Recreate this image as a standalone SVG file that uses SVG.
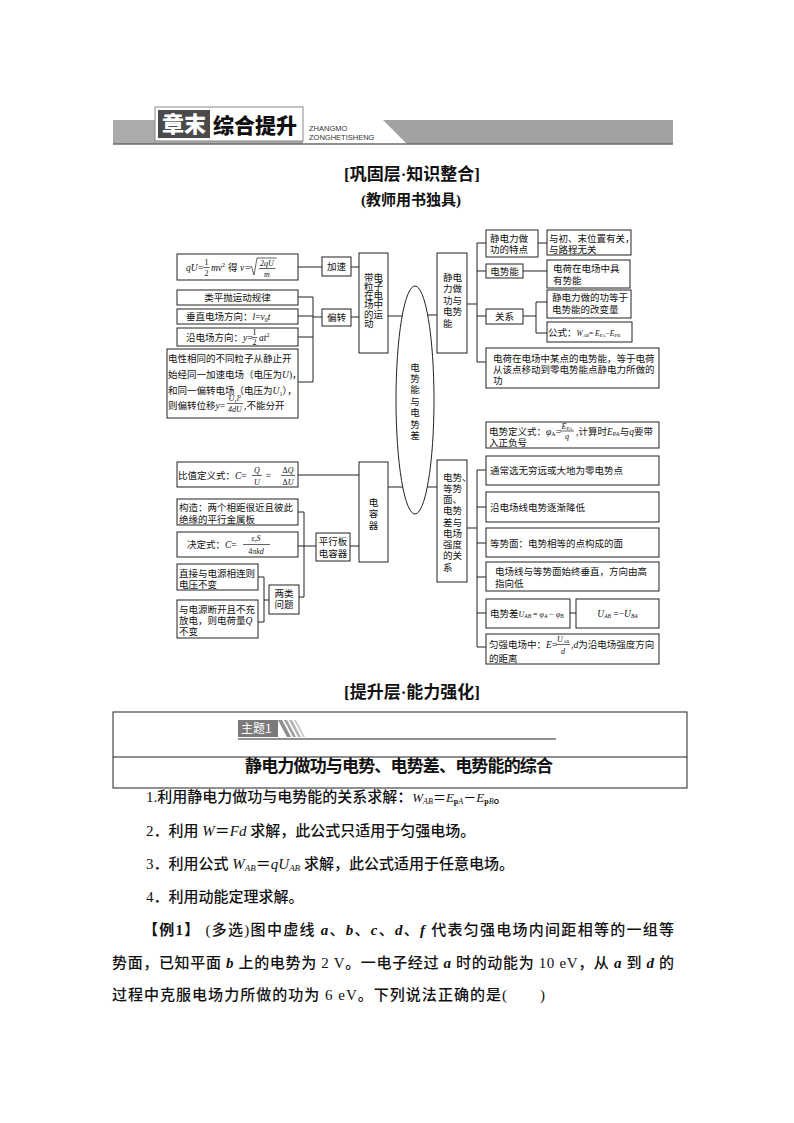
<svg xmlns="http://www.w3.org/2000/svg" width="794" height="1123" viewBox="0 0 794 1123">
<style>
.bx{fill:#fff;stroke:#222;stroke-width:1}
.ln{stroke:#222;stroke-width:1;fill:none}
.fl{stroke:#222;stroke-width:0.7;fill:none}
.t{font-family:"Liberation Serif","Noto Sans CJK SC",serif;font-size:9.5px;fill:#111}
.c{text-anchor:middle}
.i{font-style:italic}
.s{font-size:6px}
.fr{font-size:8px}
.body{font-family:"Liberation Serif","Noto Sans CJK SC",serif;font-size:15px;font-weight:500;fill:#111}
.m{font-family:"Liberation Serif",serif;font-style:italic}
.h{font-family:"Liberation Serif","Noto Sans CJK SC",serif;font-weight:bold;fill:#111}
</style>

<!-- header -->
<g id="header">
  <rect x="113" y="120" width="190" height="24" fill="#ababab"/>
  <polygon points="383,120 673,120 673,144 407,144" fill="#a2a2a2"/>
  <line x1="113" y1="144" x2="673" y2="144" stroke="#6a6a6a" stroke-width="1.5"/>
  <rect x="155" y="107" width="148" height="34" fill="#fff" stroke="#8a8a8a"/>
  <rect x="158" y="110" width="52" height="28" fill="#4a4a4a"/>
  <text x="184" y="132" text-anchor="middle" font-family="'Noto Sans CJK SC',sans-serif" font-size="22" font-weight="900" fill="#fff">章末</text>
  <text x="213" y="133" font-family="'Noto Sans CJK SC',sans-serif" font-size="21" font-weight="900" fill="#111">综合提升</text>
  <text x="309" y="131" font-family="'Liberation Sans',sans-serif" font-size="7.5" fill="#333">ZHANGMO</text>
  <text x="309" y="140" font-family="'Liberation Sans',sans-serif" font-size="7.5" fill="#333">ZONGHETISHENG</text>
  <text class="h" x="412" y="180" font-size="17" text-anchor="middle">[巩固层·知识整合]</text>
  <text class="h" x="411" y="205" font-size="15" text-anchor="middle">(教师用书独具)</text>
</g>

<!-- connectors -->
<g id="connectors" class="ln">
  <line x1="298" y1="267" x2="322" y2="267"/>
  <line x1="351" y1="267" x2="359" y2="267"/>
  <line x1="313" y1="297" x2="313" y2="382"/>
  <line x1="298" y1="297" x2="313" y2="297"/>
  <line x1="298" y1="316" x2="313" y2="316"/>
  <line x1="298" y1="337" x2="313" y2="337"/>
  <line x1="298" y1="382" x2="313" y2="382"/>
  <line x1="313" y1="317" x2="322" y2="317"/>
  <line x1="351" y1="317" x2="359" y2="317"/>
  <line x1="388" y1="316" x2="415" y2="316"/>
  <line x1="415" y1="315" x2="437" y2="315"/>
  <line x1="467" y1="304" x2="477" y2="304"/>
  <line x1="477" y1="243" x2="477" y2="362"/>
  <line x1="477" y1="243" x2="486" y2="243"/>
  <line x1="538" y1="243" x2="547" y2="243"/>
  <line x1="477" y1="271" x2="486" y2="271"/>
  <line x1="523" y1="271" x2="547" y2="271"/>
  <line x1="477" y1="316" x2="486" y2="316"/>
  <line x1="523" y1="316" x2="536" y2="316"/>
  <line x1="536" y1="302" x2="536" y2="333"/>
  <line x1="536" y1="302" x2="547" y2="302"/>
  <line x1="536" y1="333" x2="547" y2="333"/>
  <line x1="477" y1="362" x2="486" y2="362"/>
  <line x1="415" y1="487" x2="437" y2="487"/>
  <line x1="467" y1="528" x2="477" y2="528"/>
  <line x1="477" y1="470" x2="477" y2="647"/>
  <line x1="477" y1="470" x2="486" y2="470"/>
  <line x1="477" y1="507" x2="486" y2="507"/>
  <line x1="477" y1="543" x2="486" y2="543"/>
  <line x1="477" y1="577" x2="486" y2="577"/>
  <line x1="477" y1="613" x2="486" y2="613"/>
  <line x1="477" y1="647" x2="486" y2="647"/>
  <line x1="570" y1="613" x2="576" y2="613"/>
  <line x1="298" y1="475" x2="359" y2="475"/>
  <line x1="388" y1="487" x2="415" y2="487"/>
  <line x1="298" y1="512" x2="304" y2="512"/>
  <line x1="304" y1="512" x2="304" y2="597"/>
  <line x1="298" y1="546" x2="316" y2="546"/>
  <line x1="299" y1="597" x2="304" y2="597"/>
  <line x1="350" y1="546" x2="359" y2="546"/>
  <line x1="258" y1="577" x2="264" y2="577"/>
  <line x1="264" y1="577" x2="264" y2="622"/>
  <line x1="258" y1="622" x2="264" y2="622"/>
  <line x1="264" y1="600" x2="269" y2="600"/>
</g>

<!-- center ellipse -->
<g id="n-center">
  <ellipse class="bx" cx="415" cy="400" rx="19" ry="114"/>
  <text class="t c" x="415" y="370.5" font-size="10"><tspan x="415">电</tspan><tspan x="415" dy="11.4">势</tspan><tspan x="415" dy="11.4">能</tspan><tspan x="415" dy="11.4">与</tspan><tspan x="415" dy="11.4">电</tspan><tspan x="415" dy="11.4">势</tspan><tspan x="415" dy="11.4">差</tspan></text>
</g>

<!-- left top -->
<g id="n-accel-formula">
  <rect class="bx" x="177" y="254" width="121" height="26"/>
  <text class="t i" x="186" y="271">qU=</text>
  <text class="t fr c" x="206.5" y="265">1</text>
  <line class="fl" x1="203.5" y1="267.5" x2="209.5" y2="267.5"/>
  <text class="t fr c" x="206.5" y="276">2</text>
  <text class="t i" x="211" y="271">mv<tspan class="s" font-style="normal" dy="-4">2</tspan></text>
  <text class="t" x="228" y="271">得</text>
  <text class="t i" x="240" y="271">v=</text>
  <path class="fl" d="M249.5,268 l2,-1.5 l2.5,8.5 l3,-17 h19.5"/>
  <text class="t fr i c" x="267" y="266">2qU</text>
  <line class="fl" x1="259" y1="268.5" x2="275.5" y2="268.5"/>
  <text class="t fr i c" x="267" y="277">m</text>
</g>
<g id="n-accel">
  <rect class="bx" x="322" y="257" width="29" height="19"/>
  <text class="t c" x="336.5" y="270">加速</text>
</g>
<g id="n-motion">
  <rect class="bx" x="359" y="253" width="29" height="100"/>
  <text class="t" x="364" y="280.5" font-size="9"><tspan x="364">带电</tspan><tspan x="364" dy="9.3">粒子</tspan><tspan x="364" dy="9.3">在电</tspan><tspan x="364" dy="9.3">场中</tspan><tspan x="364" dy="9.3">的运</tspan><tspan x="364" dy="9.3">动</tspan></text>
</g>
<g id="n-projectile">
  <rect class="bx" x="177" y="290" width="121" height="15"/>
  <text class="t c" x="237.5" y="301">类平抛运动规律</text>
</g>
<g id="n-perp">
  <rect class="bx" x="177" y="309" width="121" height="15"/>
  <text class="t" x="186" y="320">垂直电场方向：<tspan class="i">l</tspan>=<tspan class="i">v</tspan><tspan class="s" dy="2">0</tspan><tspan class="i" dy="-2">t</tspan></text>
</g>
<g id="n-along">
  <rect class="bx" x="177" y="328" width="121" height="18"/>
  <text class="t" x="186" y="340.5">沿电场方向：<tspan class="i">y</tspan>=</text>
  <text class="t fr c" x="254.5" y="335">1</text>
  <line class="fl" x1="251.5" y1="337.5" x2="257.5" y2="337.5"/>
  <text class="t fr c" x="254.5" y="345">2</text>
  <text class="t i" x="259" y="340.5">at<tspan class="s" font-style="normal" dy="-4">2</tspan></text>
</g>
<g id="n-deflect-note">
  <rect class="bx" x="167" y="349" width="131" height="69"/>
  <text class="t" x="168" y="361.5" font-size="9.6">电性相同的不同粒子从静止开</text>
  <text class="t" x="168" y="377.5" font-size="9.6">始经同一加速电场（电压为<tspan class="i">U</tspan>)，</text>
  <text class="t" x="168" y="393.5" font-size="9.6">和同一偏转电场（电压为<tspan class="i">U</tspan><tspan class="s" dy="2">1</tspan><tspan dy="-2">），</tspan></text>
  <text class="t" x="168" y="408.5" font-size="9.6">则偏转位移<tspan class="i">y</tspan>=</text>
  <text class="t fr c" x="235" y="401"><tspan class="i">U</tspan><tspan font-size="5" dy="1.5">1</tspan><tspan class="i" dy="-1.5">l</tspan><tspan font-size="5" dy="-3">2</tspan></text>
  <line class="fl" x1="227" y1="403.5" x2="243" y2="403.5"/>
  <text class="t fr i c" x="235" y="412">4dU</text>
  <text class="t" x="244" y="408.5" font-size="9.6">,不能分开</text>
</g>
<g id="n-deflect">
  <rect class="bx" x="322" y="309" width="29" height="17"/>
  <text class="t c" x="336.5" y="321">偏转</text>
</g>

<!-- right top -->
<g id="n-work">
  <rect class="bx" x="437" y="253" width="30" height="100"/>
  <text class="t" x="443" y="280.5"><tspan x="443">静电</tspan><tspan x="443" dy="11.5">力做</tspan><tspan x="443" dy="11.5">功与</tspan><tspan x="443" dy="11.5">电势</tspan><tspan x="443" dy="11.5">能</tspan></text>
</g>
<g id="n-work-feature">
  <rect class="bx" x="486" y="230" width="52" height="27"/>
  <text class="t" x="490" y="241.5">静电力做</text>
  <text class="t" x="490" y="253">功的特点</text>
</g>
<g id="n-path">
  <rect class="bx" x="547" y="230" width="84" height="25"/>
  <text class="t" x="549" y="241.5" font-size="9">与初、末位置有关，</text>
  <text class="t" x="549" y="252.5" font-size="9">与路程无关</text>
</g>
<g id="n-pe">
  <rect class="bx" x="486" y="264" width="37" height="14"/>
  <text class="t c" x="504.5" y="274.5">电势能</text>
</g>
<g id="n-pe-def">
  <rect class="bx" x="547" y="260" width="83" height="28"/>
  <text class="t" x="553" y="271.5">电荷在电场中具</text>
  <text class="t" x="553" y="283.5">有势能</text>
</g>
<g id="n-rel">
  <rect class="bx" x="486" y="309" width="37" height="15"/>
  <text class="t c" x="504.5" y="320">关系</text>
</g>
<g id="n-rel-1">
  <rect class="bx" x="547" y="290" width="84" height="28"/>
  <text class="t" x="552" y="300.5">静电力做的功等于</text>
  <text class="t" x="552" y="312.5">电势能的改变量</text>
</g>
<g id="n-rel-2">
  <rect class="bx" x="547" y="322" width="85" height="20"/>
  <text class="t" x="548" y="335.5">公式：<tspan class="i" font-size="7.5">W</tspan><tspan class="i" font-size="5" dy="1.5">AB</tspan><tspan font-size="7.5" dy="-1.5">= </tspan><tspan class="i" font-size="7.5">E</tspan><tspan font-size="5" dy="1.5">PA</tspan><tspan font-size="7.5" dy="-1.5">−</tspan><tspan class="i" font-size="7.5">E</tspan><tspan font-size="5" dy="1.5">PB</tspan></text>
</g>
<g id="n-pe-point">
  <rect class="bx" x="486" y="348" width="173" height="40"/>
  <text class="t" x="493" y="361.5" font-size="9.6">电荷在电场中某点的电势能，等于电荷</text>
  <text class="t" x="493" y="372.5" font-size="9.6">从该点移动到零电势能点静电力所做的</text>
  <text class="t" x="493" y="383.5" font-size="9.6">功</text>
</g>

<!-- right bottom -->
<g id="n-potential-def">
  <rect class="bx" x="486" y="422" width="173" height="26"/>
  <text class="t" x="489" y="434.5">电势定义式：<tspan class="i">φ</tspan><tspan class="s" dy="1.5">A</tspan><tspan dy="-1.5">=</tspan></text>
  <text class="t fr c" x="567" y="429"><tspan class="i">E</tspan><tspan font-size="5" dy="1">PA</tspan></text>
  <line class="fl" x1="560" y1="431" x2="574" y2="431"/>
  <text class="t fr i c" x="567" y="438.5">q</text>
  <text class="t" x="576" y="434.5">,计算时<tspan class="i">E</tspan><tspan class="s" dy="1.5">PA</tspan><tspan dy="-1.5">与</tspan><tspan class="i">q</tspan>要带</text>
  <text class="t" x="489" y="445.5">入正负号</text>
</g>
<g id="n-potential">
  <rect class="bx" x="437" y="460" width="30" height="122"/>
  <text class="t" x="443" y="480.5"><tspan x="443">电势、</tspan><tspan x="443" dy="11.25">等势</tspan><tspan x="443" dy="11.25">面、</tspan><tspan x="443" dy="11.25">电势</tspan><tspan x="443" dy="11.25">差与</tspan><tspan x="443" dy="11.25">电场</tspan><tspan x="443" dy="11.25">强度</tspan><tspan x="443" dy="11.25">的关</tspan><tspan x="443" dy="11.25">系</tspan></text>
</g>
<g id="n-zero">
  <rect class="bx" x="486" y="456" width="173" height="29"/>
  <text class="t" x="490" y="473.5">通常选无穷远或大地为零电势点</text>
</g>
<g id="n-decrease">
  <rect class="bx" x="486" y="492" width="173" height="30"/>
  <text class="t" x="490" y="510.5">沿电场线电势逐渐降低</text>
</g>
<g id="n-equi">
  <rect class="bx" x="486" y="528" width="173" height="29"/>
  <text class="t" x="490" y="546.5">等势面：电势相等的点构成的面</text>
</g>
<g id="n-perpendicular">
  <rect class="bx" x="486" y="562" width="173" height="29"/>
  <text class="t" x="495" y="574.5">电场线与等势面始终垂直，方向由高</text>
  <text class="t" x="495" y="586.5">指向低</text>
</g>
<g id="n-diff">
  <rect class="bx" x="486" y="599" width="84" height="29"/>
  <text class="t" x="490" y="616.5">电势差<tspan class="i" font-size="8">U</tspan><tspan class="i" font-size="5.5" dy="1.5">AB</tspan><tspan font-size="8" dy="-1.5"> = </tspan><tspan class="i" font-size="8">φ</tspan><tspan class="i" font-size="5.5" dy="1.5">A</tspan><tspan font-size="8" dy="-1.5"> − </tspan><tspan class="i" font-size="8">φ</tspan><tspan class="i" font-size="5.5" dy="1.5">B</tspan></text>
</g>
<g id="n-diff-neg">
  <rect class="bx" x="576" y="599" width="83" height="29"/>
  <text class="t c" x="617.5" y="616.5" font-size="8.5"><tspan class="i">U</tspan><tspan class="i" font-size="5.5" dy="1.5">AB</tspan><tspan dy="-1.5"> =−</tspan><tspan class="i">U</tspan><tspan class="i" font-size="5.5" dy="1.5">BA</tspan></text>
</g>
<g id="n-uniform">
  <rect class="bx" x="486" y="634" width="173" height="30"/>
  <text class="t" x="489" y="648">匀强电场中：<tspan class="i">E</tspan>=</text>
  <text class="t fr c" x="563" y="641.5"><tspan class="i">U</tspan><tspan class="i" font-size="5" dy="1">AB</tspan></text>
  <line class="fl" x1="556" y1="644.5" x2="570" y2="644.5"/>
  <text class="t fr i c" x="563" y="654">d</text>
  <text class="t" x="571" y="648">,<tspan class="i">d</tspan>为沿电场强度方向</text>
  <text class="t" x="489" y="661.5">的距离</text>
</g>

<!-- left bottom -->
<g id="n-cap-def">
  <rect class="bx" x="177" y="462" width="121" height="25"/>
  <text class="t" x="178" y="478.5">比值定义式：<tspan class="i">C</tspan>=</text>
  <text class="t fr i c" x="257" y="472.5">Q</text>
  <line class="fl" x1="252" y1="475.5" x2="262" y2="475.5"/>
  <text class="t fr i c" x="257" y="485">U</text>
  <text class="t c" x="268.5" y="478.5">=</text>
  <text class="t fr c" x="288" y="472.5">Δ<tspan class="i">Q</tspan></text>
  <line class="fl" x1="281" y1="475.5" x2="295" y2="475.5"/>
  <text class="t fr c" x="288" y="485">Δ<tspan class="i">U</tspan></text>
</g>
<g id="n-capacitor">
  <rect class="bx" x="359" y="462" width="29" height="100"/>
  <text class="t c" x="373.5" y="505.5" font-size="10"><tspan x="373.5">电</tspan><tspan x="373.5" dy="11.5">容</tspan><tspan x="373.5" dy="11.5">器</tspan></text>
</g>
<g id="n-structure">
  <rect class="bx" x="177" y="499" width="121" height="26"/>
  <text class="t" x="179" y="510.5">构造：两个相距很近且彼此</text>
  <text class="t" x="179" y="522.5">绝缘的平行金属板</text>
</g>
<g id="n-determine">
  <rect class="bx" x="177" y="532" width="121" height="25"/>
  <text class="t" x="187" y="548">决定式：<tspan class="i">C</tspan>=</text>
  <text class="t fr c" x="256" y="541"><tspan class="i">ε</tspan><tspan font-size="5" dy="1">r</tspan><tspan class="i" dy="-1">S</tspan></text>
  <line class="fl" x1="243" y1="544.5" x2="270" y2="544.5"/>
  <text class="t fr c" x="256" y="554">4π<tspan class="i">kd</tspan></text>
</g>
<g id="n-parallel">
  <rect class="bx" x="316" y="533" width="34" height="28"/>
  <text class="t c" x="333" y="544.5">平行板</text>
  <text class="t c" x="333" y="556.5">电容器</text>
</g>
<g id="n-connected">
  <rect class="bx" x="177" y="564" width="81" height="26"/>
  <text class="t" x="179" y="576.5">直接与电源相连则</text>
  <text class="t" x="179" y="587.5">电压不变</text>
</g>
<g id="n-disconnected">
  <rect class="bx" x="177" y="600" width="81" height="38"/>
  <text class="t" x="179" y="612.5">与电源断开且不充</text>
  <text class="t" x="179" y="623.5">放电，则电荷量<tspan class="i">Q</tspan></text>
  <text class="t" x="179" y="634.5">不变</text>
</g>
<g id="n-two">
  <rect class="bx" x="269" y="585" width="30" height="29"/>
  <text class="t c" x="284" y="596.5">两类</text>
  <text class="t c" x="284" y="607.5">问题</text>
</g>

<!-- section 2 -->
<g id="section2">
  <text class="h" x="412" y="698" font-size="17" text-anchor="middle">[提升层·能力强化]</text>
  <rect x="113" y="712" width="574" height="76" fill="none" stroke="#222" stroke-width="1"/>
  <line x1="113" y1="757" x2="687" y2="757" stroke="#222" stroke-width="1"/>
  <rect x="238" y="720" width="40" height="17" fill="#7a7a7a"/>
  <text x="241" y="733" font-family="'Noto Sans CJK SC',sans-serif" font-size="12" fill="#fff">主题1</text>
  <polygon points="278,720 282,720 291,737 287,737" fill="#8c8c8c"/>
  <polygon points="284,720 287,720 296,737 293,737" fill="#a0a0a0"/>
  <polygon points="289,720 292,720 301,737 298,737" fill="#b4b4b4"/>
  <polygon points="294,720 296,720 305,737 303,737" fill="#c8c8c8"/>
  <line x1="238" y1="739" x2="556" y2="739" stroke="#222" stroke-width="1"/>
  <text class="h" x="245" y="772" font-size="17" textLength="308" lengthAdjust="spacing">静电力做功与电势、电势差、电势能的综合</text>
</g>

<g id="body">
  <text class="body" x="146" y="802">1.利用静电力做功与电势能的关系求解：<tspan class="m" font-size="13">W</tspan><tspan class="m" font-size="8" dy="2">AB</tspan><tspan font-size="13" dy="-2">＝</tspan><tspan class="m" font-size="13">E</tspan><tspan font-size="8" font-weight="bold" dy="2">p</tspan><tspan class="m" font-size="8">A</tspan><tspan font-size="13" dy="-2">－</tspan><tspan class="m" font-size="13">E</tspan><tspan font-size="8" font-weight="bold" dy="2">p</tspan><tspan class="m" font-size="8">B</tspan><tspan dy="-2">。</tspan></text>
  <text class="body" x="146" y="836">2．利用 <tspan class="m">W</tspan>＝<tspan class="m">Fd</tspan> 求解，此公式只适用于匀强电场。</text>
  <text class="body" x="146" y="869">3．利用公式 <tspan class="m">W</tspan><tspan class="m" font-size="9" dy="2">AB</tspan><tspan dy="-2">＝</tspan><tspan class="m">qU</tspan><tspan class="m" font-size="9" dy="2">AB</tspan><tspan dy="-2"> 求解，此公式适用于任意电场。</tspan></text>
  <text class="body" x="146" y="902">4．利用动能定理求解。</text>
  <text class="body" x="143" y="935" textLength="531" lengthAdjust="spacing"><tspan font-weight="bold">【例1】</tspan>  (多选)图中虚线 <tspan class="m" font-weight="bold">a</tspan>、<tspan class="m" font-weight="bold">b</tspan>、<tspan class="m" font-weight="bold">c</tspan>、<tspan class="m" font-weight="bold">d</tspan>、<tspan class="m" font-weight="bold">f</tspan> 代表匀强电场内间距相等的一组等</text>
  <text class="body" x="112" y="968" textLength="562" lengthAdjust="spacing">势面，已知平面 <tspan class="m" font-weight="bold">b</tspan> 上的电势为 2 V。一电子经过 <tspan class="m" font-weight="bold">a</tspan> 时的动能为 10 eV，从 <tspan class="m" font-weight="bold">a</tspan> 到 <tspan class="m" font-weight="bold">d</tspan> 的</text>
  <text class="body" x="112" y="1000" textLength="433" lengthAdjust="spacing">过程中克服电场力所做的功为 6 eV。下列说法正确的是(　　)</text>
</g>
</svg>
